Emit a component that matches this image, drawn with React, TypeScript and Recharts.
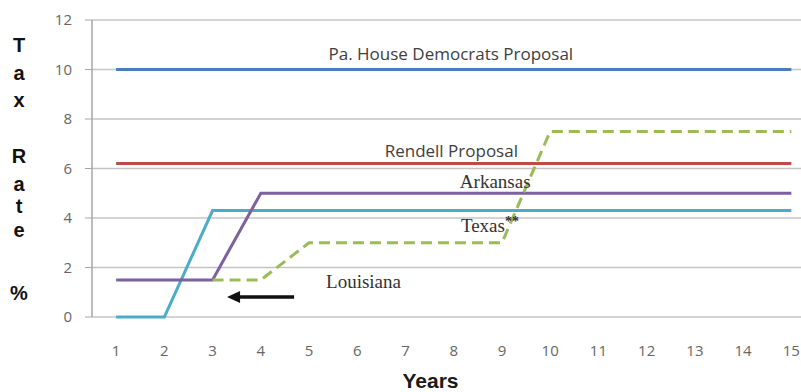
import { LineChart, Line, XAxis, YAxis, CartesianGrid, ReferenceDot, ReferenceLine, Label } from 'recharts';

// Years on the category axis, and the band edges where Excel draws its tick marks
const YEARS = [1, 2, 3, 4, 5, 6, 7, 8, 9, 10, 11, 12, 13, 14, 15];
const BAND_EDGES = YEARS.map((y) => y - 0.5);
const RATE_TICKS = [0, 2, 4, 6, 8, 10, 12];

// Tax rate % per year (null = not plotted that year)
const PA_HOUSE_DEMS = [10, 10, 10, 10, 10, 10, 10, 10, 10, 10, 10, 10, 10, 10, 10];
const RENDELL = [6.2, 6.2, 6.2, 6.2, 6.2, 6.2, 6.2, 6.2, 6.2, 6.2, 6.2, 6.2, 6.2, 6.2, 6.2];
const LOUISIANA = [0, 0, 4.3, 4.3, 4.3, 4.3, 4.3, 4.3, 4.3, 4.3, 4.3, 4.3, 4.3, 4.3, 4.3];
const ARKANSAS = [1.5, 1.5, 1.5, 5, 5, 5, 5, 5, 5, 5, 5, 5, 5, 5, 5];
const TEXAS = [null, null, 1.5, 1.5, 3, 3, 3, 3, 3, 7.5, 7.5, 7.5, 7.5, 7.5, 7.5];

const Y_TITLE = ['T', 'a', 'x', 'R', 'a', 't', 'e', '%'];
const Y_TITLE_BASELINES = [52, 80, 107, 163, 191, 213, 237, 300];

const X_DOMAIN = [0.5, 15.2];

const SANS = '"Open Sans", "Liberation Sans", sans-serif';
const SERIF = '"Liberation Serif", "DejaVu Serif", serif';

const data = YEARS.map((year, i) => ({
  year,
  paHouse: PA_HOUSE_DEMS[i],
  rendell: RENDELL[i],
  louisiana: LOUISIANA[i],
  arkansas: ARKANSAS[i],
  texas: TEXAS[i],
}));

// text annotations pinned to data coordinates
function note(key: string, x: number, y: number, text: any, family: string, size: number, color: string) {
  return (
    <ReferenceDot
      key={key}
      xAxisId="years"
      x={x}
      y={y}
      r={0}
      ifOverflow="visible"
      shape={(p: any) => (
        <text x={p.cx} y={p.cy} textAnchor="middle" fontFamily={family} fontSize={size} fill={color}>
          {text}
        </text>
      )}
    />
  );
}

export default function App() {
  return (
    <div style={{ position: 'absolute', left: 0, top: 0, width: 801, height: 392, overflow: 'hidden', background: '#fff' }}>
      <LineChart width={801} height={392} data={data} margin={{ top: 20, right: 0, left: 40, bottom: 0 }}>
        <CartesianGrid xAxisId="years" vertical={false} stroke="#c4c4c4" strokeWidth={1.5} />
        <XAxis
          xAxisId="edges"
          type="number"
          dataKey="year"
          domain={X_DOMAIN}
          allowDataOverflow
          ticks={BAND_EDGES}
          tick={false}
          tickSize={6}
          tickLine={{ stroke: '#a6a6a6' }}
          axisLine={{ stroke: '#a6a6a6', strokeWidth: 1.5 }}
          height={0}
        />
        <XAxis
          xAxisId="years"
          type="number"
          dataKey="year"
          domain={X_DOMAIN}
          allowDataOverflow
          ticks={YEARS}
          interval={0}
          axisLine={false}
          tickLine={false}
          tickSize={6}
          tickMargin={22}
          tick={{ fill: '#666', fontSize: 15, fontFamily: SANS }}
          height={75}
        >
          <Label
            value="Years"
            position="insideBottom"
            offset={4}
            dx={-16}
            style={{ fontFamily: '"Liberation Sans", Arial, sans-serif', fontWeight: 'bold', fontSize: 21, fill: '#1a1a1a' }}
          />
        </XAxis>
        <YAxis
          domain={[0, 12]}
          ticks={RATE_TICKS}
          interval={0}
          width={52}
          tickSize={7}
          tickMargin={13}
          tickLine={{ stroke: '#a6a6a6' }}
          axisLine={{ stroke: '#a6a6a6', strokeWidth: 1.5 }}
          tick={{ fill: '#666', fontSize: 15, fontFamily: SANS }}
        />
        <Line xAxisId="years" dataKey="paHouse" stroke="#4a7ebb" strokeWidth={3} dot={false} isAnimationActive={false} />
        <Line xAxisId="years" dataKey="rendell" stroke="#be4b48" strokeWidth={3} dot={false} isAnimationActive={false} />
        <Line xAxisId="years" dataKey="louisiana" stroke="#4bacc6" strokeWidth={3} dot={false} isAnimationActive={false} />
        <Line xAxisId="years" dataKey="arkansas" stroke="#7d60a0" strokeWidth={3} dot={false} isAnimationActive={false} />
        <Line
          xAxisId="years"
          dataKey="texas"
          stroke="#9bbb59"
          strokeWidth={3}
          strokeDasharray="11 6"
          dot={false}
          isAnimationActive={false}
        />

        {note('pa', 7.94, 10.38, 'Pa. House Democrats Proposal', SANS, 17, '#404040')}
        {note('rendell', 7.95, 6.46, 'Rendell Proposal', SANS, 17, '#404040')}
        {note('ark', 8.86, 5.21, 'Arkansas', SERIF, 19, '#333')}
        {note('tx', 8.75, 3.43, <>Texas<tspan fontSize={14} fontWeight="bold" dy={-6}>**</tspan></>, SERIF, 19, '#333')}
        {note('la', 6.13, 1.17, 'Louisiana', SERIF, 19, '#333')}

        {/* arrow pointing back at Louisiana's line */}
        <ReferenceLine
          xAxisId="years"
          segment={[{ x: 4.69, y: 0.81 }, { x: 3.5, y: 0.81 }]}
          stroke="#111"
          strokeWidth={3.5}
          ifOverflow="visible"
        />
        <ReferenceDot
          xAxisId="years"
          x={3.3}
          y={0.81}
          r={0}
          ifOverflow="visible"
          shape={(p: any) => (
            <polygon points={`${p.cx},${p.cy} ${p.cx + 13},${p.cy - 6} ${p.cx + 13},${p.cy + 6}`} fill="#111" />
          )}
        />
      </LineChart>
      <svg width={801} height={392} style={{ position: 'absolute', left: 0, top: 0, pointerEvents: 'none' }}>
        {Y_TITLE.map((ch, i) => (
          <text
            key={i}
            x={19}
            y={Y_TITLE_BASELINES[i]}
            textAnchor="middle"
            fontFamily='"Liberation Sans", Arial, sans-serif'
            fontWeight="bold"
            fontSize={20}
            fill="#111"
          >
            {ch}
          </text>
        ))}
      </svg>
    </div>
  );
}
